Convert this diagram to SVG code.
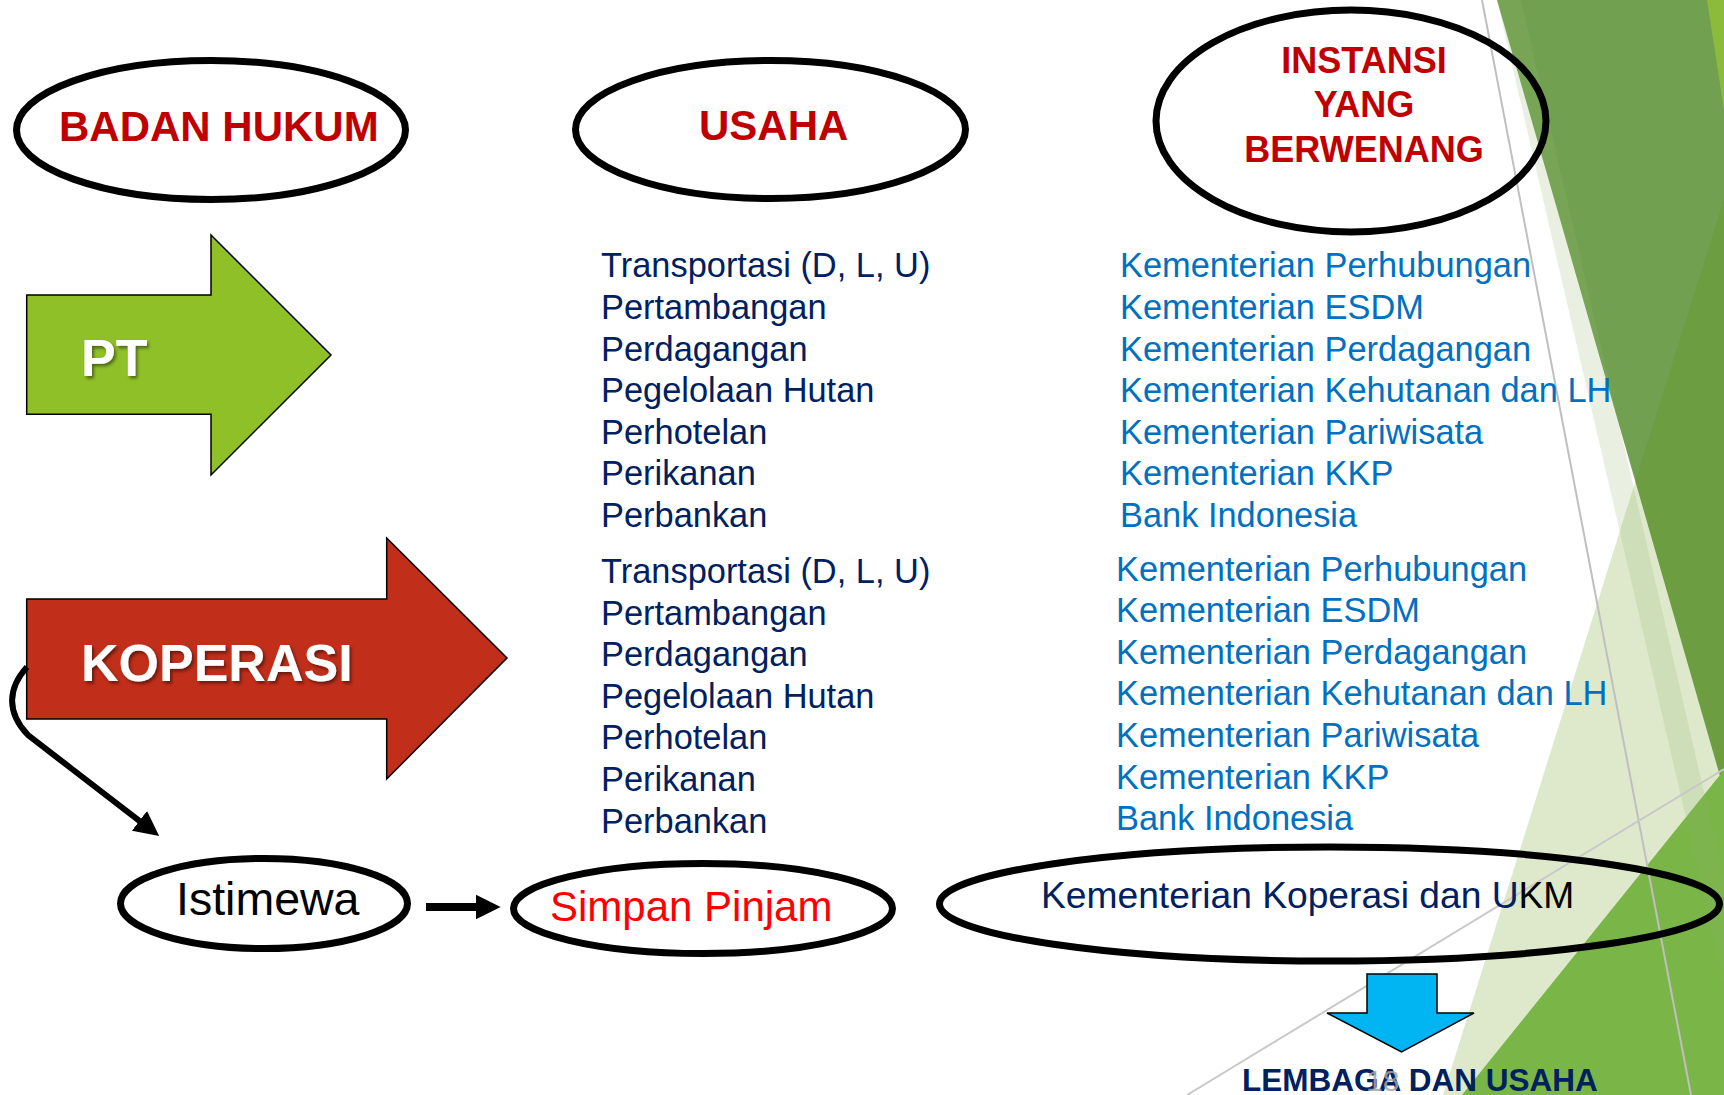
<svg xmlns="http://www.w3.org/2000/svg" width="1724" height="1095" viewBox="0 0 1724 1095">
<defs>
<style>
.t{font-family:"Liberation Sans",Arial,sans-serif}
.head{font-family:"Liberation Sans",Arial,sans-serif;font-weight:bold;fill:#C00000}
.oval{fill:none;stroke:#000;stroke-width:7}
.navy{font-family:"Liberation Sans",Arial,sans-serif;font-size:34.4px;fill:#002060}
.blue{font-family:"Liberation Sans",Arial,sans-serif;font-size:34.4px;fill:#0070C0}
.arrowtxt{font-family:"Liberation Sans",Arial,sans-serif;font-weight:bold;font-size:52px;fill:#fff}
.conn{fill:none;stroke:#000}
</style>
<filter id="sh" x="-10%" y="-10%" width="130%" height="140%">
<feDropShadow dx="2" dy="2.5" stdDeviation="1.5" flood-color="#000" flood-opacity="0.45"/>
</filter>
<marker id="ah" markerUnits="userSpaceOnUse" markerWidth="26" markerHeight="26" viewBox="0 -12 24 24" refX="3" refY="0" orient="auto">
<path d="M0,-11.5 L23,0 L0,11.5 z" fill="#000"/>
</marker>
</defs>
<rect width="1724" height="1095" fill="#fff"/>
<g id="background-decoration">
<polygon points="1497,0 1724,0 1724,790" fill="#71A050"/>
<polygon points="1707,0 1724,0 1724,110" fill="#8CBB3C"/>
<polygon points="1443,1095 1724,199 1724,1095" fill="#5A9000" fill-opacity="0.2"/>
<polygon points="1462,1095 1724,770 1724,1095" fill="#7AB547"/>
<polygon points="1497,0 1521,0 1774,1095 1750,1095" fill="#8FB46A" fill-opacity="0.2"/>
<line x1="1482" y1="0" x2="1691" y2="1095" stroke="#BFBFBF" stroke-width="2"/>
<line x1="1187" y1="1095" x2="1724" y2="769" stroke="#C8C8C8" stroke-width="2"/>
</g>
<g id="badan-hukum">
<ellipse class="oval" cx="211" cy="130" rx="194.5" ry="69.5"/>
<text class="head" x="59" y="141" font-size="42">BADAN HUKUM</text>
</g>
<g id="usaha">
<ellipse class="oval" cx="770.5" cy="129.5" rx="195" ry="69"/>
<text class="head" x="699" y="140" font-size="42">USAHA</text>
</g>
<g id="instansi">
<ellipse class="oval" cx="1351" cy="121" rx="195" ry="111"/>
<text class="head" font-size="36" text-anchor="middle"><tspan x="1364" y="73">INSTANSI</tspan><tspan x="1364" y="117">YANG</tspan><tspan x="1364" y="162">BERWENANG</tspan></text>
</g>
<g id="pt">
<polygon points="26.7,295 211,295 211,235 331,355 211,475 211,414.3 26.7,414.3" fill="#8FC027" stroke="#000" stroke-width="1.5"/>
<text class="arrowtxt" x="81" y="376" filter="url(#sh)">PT</text>
</g>
<g id="koperasi">
<polygon points="26.7,599 386.7,599 386.7,538 507,658 386.7,779 386.7,719 26.7,719" fill="#C12E1A" stroke="#000" stroke-width="1.5"/>
<text class="arrowtxt" x="81" y="681" filter="url(#sh)">KOPERASI</text>
</g>
<g id="usaha-pt">
<text class="navy"><tspan x="601" y="277.3">Transportasi (D, L, U)</tspan><tspan x="601" y="318.9">Pertambangan</tspan><tspan x="601" y="360.5">Perdagangan</tspan><tspan x="601" y="402.1">Pegelolaan Hutan</tspan><tspan x="601" y="443.7">Perhotelan</tspan><tspan x="601" y="485.3">Perikanan</tspan><tspan x="601" y="526.9">Perbankan</tspan></text>
</g>
<g id="instansi-pt">
<text class="blue"><tspan x="1120" y="277.3">Kementerian Perhubungan</tspan><tspan x="1120" y="318.9">Kementerian ESDM</tspan><tspan x="1120" y="360.5">Kementerian Perdagangan</tspan><tspan x="1120" y="402.1">Kementerian Kehutanan dan LH</tspan><tspan x="1120" y="443.7">Kementerian Pariwisata</tspan><tspan x="1120" y="485.3">Kementerian KKP</tspan><tspan x="1120" y="526.9">Bank Indonesia</tspan></text>
</g>
<g id="usaha-koperasi">
<text class="navy"><tspan x="601" y="583">Transportasi (D, L, U)</tspan><tspan x="601" y="624.6">Pertambangan</tspan><tspan x="601" y="666.2">Perdagangan</tspan><tspan x="601" y="707.8">Pegelolaan Hutan</tspan><tspan x="601" y="749.4">Perhotelan</tspan><tspan x="601" y="791">Perikanan</tspan><tspan x="601" y="832.6">Perbankan</tspan></text>
</g>
<g id="instansi-koperasi">
<text class="blue"><tspan x="1116" y="580.5">Kementerian Perhubungan</tspan><tspan x="1116" y="622.1">Kementerian ESDM</tspan><tspan x="1116" y="663.7">Kementerian Perdagangan</tspan><tspan x="1116" y="705.3">Kementerian Kehutanan dan LH</tspan><tspan x="1116" y="746.9">Kementerian Pariwisata</tspan><tspan x="1116" y="788.5">Kementerian KKP</tspan><tspan x="1116" y="830.1">Bank Indonesia</tspan></text>
</g>
<g id="istimewa">
<ellipse class="oval" cx="264" cy="903.5" rx="143.5" ry="45"/>
<text class="t" x="176" y="915" font-size="46.5" fill="#000">Istimewa</text>
</g>
<g id="simpan-pinjam">
<ellipse class="oval" cx="703" cy="908.5" rx="189.5" ry="45"/>
<text class="t" x="550" y="921" font-size="42" fill="#FF0000">Simpan Pinjam</text>
</g>
<g id="kementerian-koperasi">
<ellipse class="oval" cx="1329.5" cy="904" rx="390" ry="57" stroke-width="8"/>
<text class="t" x="1041" y="908" font-size="37.2" fill="#002060">Kementerian Koperasi dan U<tspan fill="#000">KM</tspan></text>
</g>
<g id="down-arrow">
<polygon points="1367,974 1437,974 1437,1013 1474,1013 1401.5,1052 1327,1013 1367,1013" fill="#00B5F2" stroke="#000" stroke-width="1.5"/>
</g>
<g id="lembaga-usaha">
<text class="t" x="1242" y="1091" font-size="31.5" font-weight="bold" fill="#002060">LEMBAGA DAN USAHA</text>
<text class="t" x="1366" y="1091" font-size="30" fill="#A6A6A6" fill-opacity="0.85">18</text>
</g>
<g id="connectors">
<path class="conn" stroke-width="6" d="M27,667 C8,688 6,712 28,735 L72,769 L142,822.8" marker-end="url(#ah)"/>
<path class="conn" stroke-width="8" d="M426,907 L479,907" marker-end="url(#ah)"/>
</g>
</svg>
